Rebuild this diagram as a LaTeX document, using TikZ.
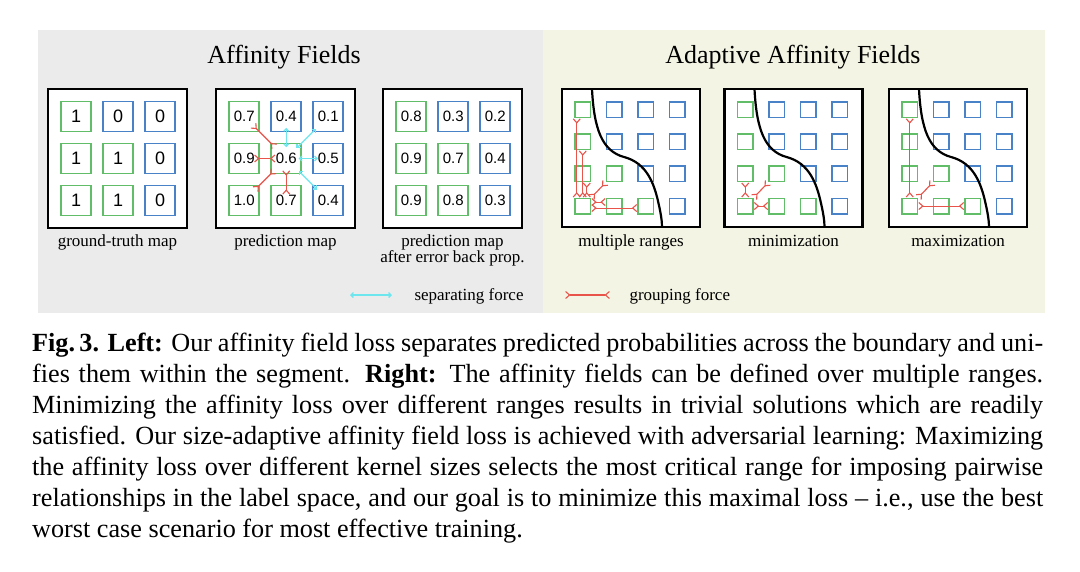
\documentclass[tikz,border=0pt]{standalone}
\usepackage{fontspec}
\setmainfont{Liberation Serif}
\newfontfamily\cellfont{Liberation Sans}
\usetikzlibrary{arrows.meta,calc}
\definecolor{bgL}{HTML}{EBEBEB}
\definecolor{bgR}{HTML}{F4F4E4}
\definecolor{cgreen}{HTML}{62BD68}
\definecolor{cblue}{HTML}{4A82C8}
\definecolor{cred}{HTML}{E8534A}
\definecolor{ccyan}{HTML}{6EE6EE}
\tikzset{
  gtip/.tip={Straight Barb[reversed,length=4pt,width=7pt]},
  stip/.tip={Straight Barb[length=2.5pt,width=5pt]},
}
\begin{document}
\begin{tikzpicture}[x=1pt,y=-1pt,
  mapframe/.style={draw=black,line width=2.2pt,fill=white},
  bigcell/.style={draw,line width=1.6pt,minimum width=30pt,minimum height=30pt,inner sep=0pt},
  smallcell/.style={draw,line width=1.5pt,minimum width=15.5pt,minimum height=15.5pt,inner sep=0pt},
  bound/.style={draw=black,line width=2.2pt},
  grp/.style={draw=cred,line width=1.1pt,arrows={gtip-gtip}},
  sepf/.style={draw=ccyan,line width=1.3pt,arrows={stip-stip}},
  ttl/.style={font=\fontsize{26}{26}\selectfont,anchor=base},
  lab/.style={font=\fontsize{17}{17}\selectfont,anchor=base},
  captxt/.style={font=\fontsize{26.2}{26.2}\selectfont,anchor=base west,inner sep=0pt},
]
\useasboundingbox (0,0) rectangle (1080,571);
\fill[white] (0,0) rectangle (1080,571);
\fill[bgL] (37.5,30) rectangle (543,313);
\fill[bgR] (543,30) rectangle (1045,313);

\node[ttl] (t1) at (284,63) {Affinity Fields};
\node[ttl] (t2) at (793,63) {Adaptive Affinity Fields};

% left frames
\foreach \L in {48,216,383}{
  \draw[mapframe] (\L,89) rectangle ++(139,139);
}
\foreach \r/\c/\col/\g/\p/\q in {
  1/1/cgreen/1/0.7/0.8, 1/2/cblue/0/0.4/0.3, 1/3/cblue/0/0.1/0.2,
  2/1/cgreen/1/0.9/0.9, 2/2/cgreen/1/0.6/0.7, 2/3/cblue/0/0.5/0.4,
  3/1/cgreen/1/1.0/0.9, 3/2/cgreen/1/0.7/0.8, 3/3/cblue/0/0.4/0.3}{
  \node[bigcell,draw=\col,font=\cellfont\fontsize{18}{18}\selectfont] (G-\r-\c) at ({48+28.25+42*(\c-1)},{116.5+42*(\r-1)}) {\g};
  \node[bigcell,draw=\col,font=\cellfont\fontsize{15}{15}\selectfont] (P-\r-\c) at ({216+28.25+42*(\c-1)},{116.5+42*(\r-1)}) {\p};
  \node[bigcell,draw=\col,font=\cellfont\fontsize{15}{15}\selectfont] (Q-\r-\c) at ({383+28.25+42*(\c-1)},{116.5+42*(\r-1)}) {\q};
}

% prediction map forces
\draw[grp,shorten <=-10pt,shorten >=-6pt] (P-1-1.south east) -- (P-2-2.north west);
\draw[grp,shorten <=-6pt,shorten >=-5pt] (P-2-1.east) -- (P-2-2.west);
\draw[grp,shorten <=-7pt,shorten >=-5pt] (P-3-1.north east) -- (P-2-2.south west);
\draw[grp,shorten <=-10pt,shorten >=-4pt] (P-3-2.north) -- (P-2-2.south);
\draw[sepf,shorten <=-4.5pt,shorten >=-4.5pt] (P-2-2.north) -- (P-1-2.south);
\draw[sepf,shorten <=-8pt,shorten >=-5pt] (P-2-2.north east) -- (P-1-3.south west);
\draw[sepf,shorten <=-3.5pt,shorten >=-5.5pt] (P-2-2.east) -- (P-2-3.west);
\draw[sepf,shorten <=-5pt,shorten >=-7pt] (P-2-2.south east) -- (P-3-3.north west);

\node[lab] (l1) at (117.5,246.5) {ground-truth map};
\node[lab] (l2) at (285.5,246.5) {prediction map};
\node[lab] (l3) at (452.5,246.5) {prediction map};
\node[lab] (l3b) at (452.5,262.5) {after error back prop.};

% right frames
\foreach \m/\L in {A/562,B/724.5,C/889}{
  \draw[mapframe] (\L,89) rectangle ++(138,138);
  \foreach \r/\c/\col in {1/1/cgreen,1/2/cblue,1/3/cblue,1/4/cblue,
                          2/1/cgreen,2/2/cblue,2/3/cblue,2/4/cblue,
                          3/1/cgreen,3/2/cgreen,3/3/cblue,3/4/cblue,
                          4/1/cgreen,4/2/cgreen,4/3/cgreen,4/4/cblue}{
    \node[smallcell,draw=\col] (\m-\r-\c) at ({\L+20.75+31.5*(\c-1)},{109.75+32.1*(\r-1)}) {};
  }
  \begin{scope}[shift={(\L,89)}]
    \draw[bound] (30,0) .. controls (32,40) and (40,62) .. (62,68)
      .. controls (85,74) and (92,95) .. (96,112)
      .. controls (99,125) and (100,132) .. (100,138);
  \end{scope}
}

% multiple ranges
\draw[grp] ([xshift=-6pt]A-1-1.south) -- ([xshift=-6pt]A-4-1.north);
\draw[grp] (A-2-1.south) -- (A-4-1.north);
\draw[grp] ([xshift=4pt]A-3-1.south) -- ([xshift=4pt]A-4-1.north);
\draw[grp] (A-3-2.south west) -- (A-4-1.north east);
\draw[grp] ([yshift=4pt]A-4-2.west) -- ([yshift=4pt]A-4-1.east);
\draw[grp] ([yshift=-2pt]A-4-3.west) -- ([yshift=-2pt]A-4-1.east);
% minimization
\draw[grp] (B-3-1.south) -- (B-4-1.north);
\draw[grp] (B-3-2.south west) -- (B-4-1.north east);
\draw[grp] (B-4-2.west) -- (B-4-1.east);
% maximization
\draw[grp] (C-1-1.south) -- (C-4-1.north);
\draw[grp] (C-3-2.south west) -- (C-4-1.north east);
\draw[grp] (C-4-3.west) -- (C-4-1.east);

\node[lab] (l4) at (631,246.5) {multiple ranges};
\node[lab] (l5) at (793.5,246.5) {minimization};
\node[lab] (l6) at (958,246.5) {maximization};

% legend
\coordinate (s1) at (350,295);
\coordinate (s2) at (392,295);
\draw[sepf] (s1) -- (s2);
\node[lab,anchor=base west] (sl) at (411,300) {separating force};
\coordinate (g1) at (565,295);
\coordinate (g2) at (610,295);
\draw[grp] (g1) -- (g2);
\node[lab,anchor=base west] (gl) at (626,300) {grouping force};

% caption
\node[captxt] (c1) at (32,351) {\makebox[1011pt][s]{\textbf{Fig.\,3. Left:} Our affinity field loss separates predicted probabilities across the boundary and uni-}};
\node[captxt] (c2) at (32,382) {\makebox[1011pt][s]{fies them within the segment. \textbf{Right:} The affinity fields can be defined over multiple ranges.}};
\node[captxt] (c3) at (32,413) {\makebox[1011pt][s]{Minimizing the affinity loss over different ranges results in trivial solutions which are readily}};
\node[captxt] (c4) at (32,444) {\makebox[1011pt][s]{satisfied. Our size-adaptive affinity field loss is achieved with adversarial learning: Maximizing}};
\node[captxt] (c5) at (32,475) {\makebox[1011pt][s]{the affinity loss over different kernel sizes selects the most critical range for imposing pairwise}};
\node[captxt] (c6) at (32,506) {\makebox[1011pt][s]{relationships in the label space, and our goal is to minimize this maximal loss -- i.e., use the best}};
\node[captxt] (c7) at (32,537) {worst case scenario for most effective training.};
\end{tikzpicture}
\end{document}
